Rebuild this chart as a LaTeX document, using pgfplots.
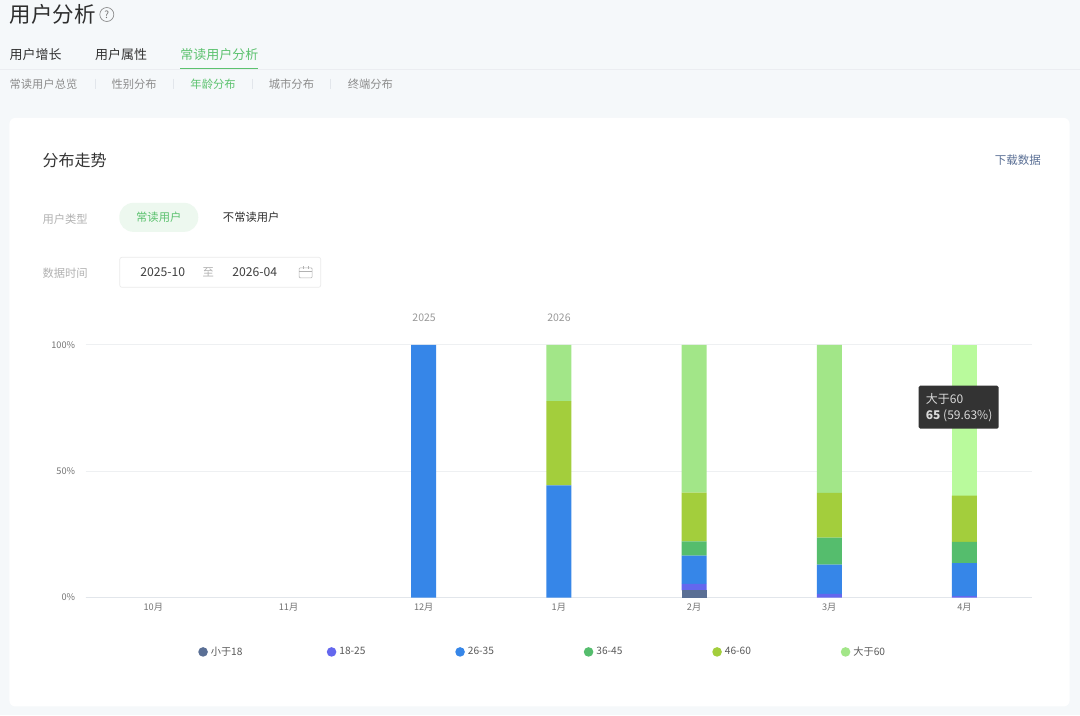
\documentclass[border=0pt]{standalone}
\usepackage{fontspec}
\setmainfont{Noto Sans CJK SC}
\usepackage{pgfplots}
\usepackage{pgfplotstable}
\pgfplotsset{compat=1.18}
\usetikzlibrary{calc}
\definecolor{bg}{HTML}{F5F8FA}
\definecolor{uiGreen}{HTML}{5CC26F}
\definecolor{cA}{HTML}{5A6F95}
\definecolor{cB}{HTML}{6467EE}
\definecolor{cC}{HTML}{3686E8}
\definecolor{cD}{HTML}{55BD6D}
\definecolor{cE}{HTML}{A3CE3C}
\definecolor{cF}{HTML}{A2E688}
\definecolor{cH}{HTML}{B9FA9C}
\definecolor{gridc}{HTML}{EEF0F2}
\definecolor{basec}{HTML}{E2E6EB}
\pgfplotstableread{
x a b c d e f h
0 0 0 0 0 0 0 0
1 0 0 0 0 0 0 0
2 0 0 100 0 0 0 0
3 0 0 44.4 0 33.3 22.3 0
4 2.8 2.6 11.2 5.6 19.3 58.5 0
5 0 1.5 11.5 10.7 17.7 58.6 0
6 0 0.6 13.0 8.4 18.3 0 59.7
}\datatable
\begin{document}
\begin{tikzpicture}[x=1pt,y=-1pt]
% page
\fill[bg] (0,0) rectangle (1080,716);
\fill[white,rounded corners=6pt] (9,118) rectangle (1070,707);
\draw[basec!70,line width=0.8pt] (0,69) -- (1080,69);
\fill[uiGreen] (180,67.6) rectangle (258,69.4);
% header
\node[anchor=west,font=\fontsize{21.5}{24}\selectfont,text=black!82,inner sep=0] at (9,14) {用户分析};
\draw[black!45,line width=0.7pt] (106.5,14.5) circle (7);
\node[font=\fontsize{10}{11}\selectfont,text=black!55,inner sep=0] at (106.5,14.5) {?};
\foreach \x/\t in {9/用户增长,94.5/用户属性}
  \node[anchor=west,font=\fontsize{13}{15}\selectfont,text=black!80,inner sep=0] at (\x,54.5) {\t};
\node[anchor=west,font=\fontsize{13}{15}\selectfont,text=uiGreen,inner sep=0] at (180,54.5) {常读用户分析};
\node[anchor=west,font=\fontsize{11.3}{13}\selectfont,text=black!45,inner sep=0] at (9,84) {常读用户总览};
\node[anchor=west,font=\fontsize{11.3}{13}\selectfont,text=black!45,inner sep=0] at (111,84) {性别分布};
\node[anchor=west,font=\fontsize{11.3}{13}\selectfont,text=uiGreen,inner sep=0] at (190,84) {年龄分布};
\node[anchor=west,font=\fontsize{11.3}{13}\selectfont,text=black!45,inner sep=0] at (268.5,84) {城市分布};
\node[anchor=west,font=\fontsize{11.3}{13}\selectfont,text=black!45,inner sep=0] at (347.5,84) {终端分布};
\foreach \x in {94.5,173,252,330.5} \draw[basec,line width=0.6pt] (\x,79) -- (\x,89);
% card
\node[anchor=west,font=\fontsize{16}{18}\selectfont,text=black!80,inner sep=0] at (42,160.5) {分布走势};
\node[anchor=east,font=\fontsize{11.5}{13}\selectfont,text=cA,inner sep=0] at (1041.5,160) {下载数据};
\node[anchor=west,font=\fontsize{11.3}{13}\selectfont,text=black!30,inner sep=0] at (42,219.5) {用户类型};
\fill[uiGreen!11,rounded corners=14pt] (119,203) rectangle (198,232);
\node[font=\fontsize{11.3}{13}\selectfont,text=uiGreen,inner sep=0] at (158.5,217) {常读用户};
\node[font=\fontsize{11.3}{13}\selectfont,text=black!82,inner sep=0] at (251,217) {不常读用户};
\node[anchor=west,font=\fontsize{11.3}{13}\selectfont,text=black!30,inner sep=0] at (42,273.5) {数据时间};
\draw[black!8,rounded corners=2pt,line width=0.7pt] (119.5,257.5) rectangle (320.5,287.5);
\node[font=\fontsize{12.2}{14}\selectfont,text=black!75,inner sep=0] at (162.5,272.5) {2025-10};
\node[font=\fontsize{11.3}{13}\selectfont,text=black!30,inner sep=0] at (208,272.5) {至};
\node[font=\fontsize{12.2}{14}\selectfont,text=black!75,inner sep=0] at (254.5,272.5) {2026-04};
\draw[black!30,line width=0.6pt,rounded corners=1pt] (299,268) rectangle (312,278);
\draw[black!30,line width=0.6pt] (299,271) -- (312,271);
\draw[black!30,line width=0.6pt] (303,266.5) -- (303,269) (308,266.5) -- (308,269);
\foreach \x/\t in {424/2025,559/2026}
  \node[font=\fontsize{10.5}{12}\selectfont,text=black!40,inner sep=0] at (\x,317.5) {\t};
% chart
\begin{axis}[
  at={(85.4pt,-598pt)},anchor=south west,
  scale only axis,width=947pt,height=253pt,
  xmin=-0.5,xmax=6.5,ymin=0,ymax=100,
  ybar stacked,bar width=25pt,
  axis x line=bottom,axis y line=left,
  x axis line style={-,draw=basec,line width=0.9pt},
  y axis line style={-,draw=none},
  xtick={0,...,6},xticklabels={10月,11月,12月,1月,2月,3月,4月},
  ytick={0,50,100},yticklabels={0\%,50\%,100\%},
  tick style={draw=none},
  ymajorgrids,major grid style={gridc,line width=0.7pt},
  tick label style={font=\fontsize{9.2}{10}\selectfont,text=black!55},
  xticklabel style={yshift=-0.5pt},
  yticklabel style={xshift=-5pt},
  legend style={at={(0.5263,-0.215)},anchor=center,draw=none,fill=none,
    legend columns=6,
    nodes={font=\fontsize{10.2}{11}\selectfont,text=black!65,text width=113pt,align=left,inner xsep=3pt}},
  legend image code/.code={\fill[#1,draw=none] (-6pt,0pt) circle (4.8pt);},
  clip=false,
]
\addplot+[fill=cA,draw=none] table[x=x,y=a] {\datatable};
\addlegendentry{小于18}
\addplot+[fill=cB,draw=none] table[x=x,y=b] {\datatable};
\addlegendentry{18-25}
\addplot+[fill=cC,draw=none] table[x=x,y=c] {\datatable};
\addlegendentry{26-35}
\addplot+[fill=cD,draw=none] table[x=x,y=d] {\datatable};
\addlegendentry{36-45}
\addplot+[fill=cE,draw=none] table[x=x,y=e] {\datatable};
\addlegendentry{46-60}
\addplot+[fill=cF,draw=none] table[x=x,y=f] {\datatable};
\addlegendentry{大于60}
\addplot+[fill=cH,draw=none,forget plot] table[x=x,y=h] {\datatable};
\end{axis}
% tooltip
\fill[black!80,rounded corners=1.5pt] (919,386) rectangle (999,429);
\node[anchor=west,font=\fontsize{12}{13}\selectfont,text=white!85!black,inner sep=0] at (926,399.5) {大于60};
\node[anchor=west,font=\fontsize{12}{13}\selectfont,text=white!85!black,inner sep=0] at (926,416) {\textbf{65} (59.63\%)};
\end{tikzpicture}
\end{document}
